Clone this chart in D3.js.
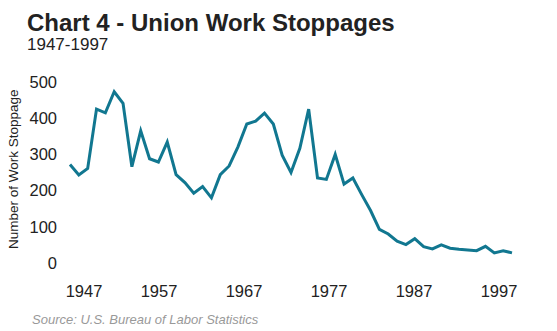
<!DOCTYPE html>
<html>
<head>
<meta charset="utf-8">
<script src="https://cdn.jsdelivr.net/npm/d3@7"></script>
<style>
	body { margin: 0; background: #fff; }
	svg { display: block; font-family: "Liberation Sans", Arial, sans-serif; }
</style>
</head>
<body>
<svg></svg>
<script>
// data (union work stoppages, 1000+ workers)
var years = [1947, 1948, 1949, 1950, 1951, 1952, 1953, 1954, 1955, 1956,
	1957, 1958, 1959, 1960, 1961, 1962, 1963, 1964, 1965, 1966,
	1967, 1968, 1969, 1970, 1971, 1972, 1973, 1974, 1975, 1976,
	1977, 1978, 1979, 1980, 1981, 1982, 1983, 1984, 1985, 1986,
	1987, 1988, 1989, 1990, 1991, 1992, 1993, 1994, 1995, 1996, 1997];
var stoppages = [272, 243, 261, 425, 415, 473, 441, 266, 365, 288,
	279, 334, 244, 222, 193, 211, 180, 244, 268, 321,
	384, 392, 414, 384, 298, 250, 317, 425, 235, 231,
	300, 218, 235, 189, 145, 93, 80, 60, 51, 67,
	45, 39, 50, 41, 38, 36, 34, 46, 28, 34, 28];
var yTicks = [0, 100, 200, 300, 400, 500];
var xTicks = [1947, 1957, 1967, 1977, 1987, 1997];

var draw = function() {

	var width = 557,
		height = 331;

	var svg = d3.select("svg")
		.attr("width", width)
		.attr("height", height);

	// scales
	var x = d3.scaleLinear()
		.domain([1947, 1997])
		.range([70, 512]);

	// the year labels sit on a slightly tighter spacing than the line
	var xLabel = d3.scaleLinear()
		.domain([1957, 1997])
		.range([158.5, 498.5]);

	var y = d3.scaleLinear()
		.domain([0, 500])
		.range([263, 82]);

	// titles
	svg.append("text")
		.attr("x", 27)
		.attr("y", 31)
		.attr("font-size", 24)
		.attr("font-weight", "bold")
		.attr("fill", "#222")
		.text("Chart 4 - Union Work Stoppages");

	svg.append("text")
		.attr("x", 27)
		.attr("y", 50)
		.attr("font-size", 17)
		.attr("fill", "#222")
		.text("1947-1997");

	// y axis (labels only)
	var yAxis = svg.append("g")
		.attr("transform", "translate(57,0)")
		.call(d3.axisLeft(y).tickValues(yTicks).tickSize(0).tickPadding(0));
	yAxis.select(".domain").remove();
	yAxis.selectAll("text")
		.attr("font-size", 16.5)
		.attr("font-family", "Liberation Sans, Arial, sans-serif")
		.attr("fill", "#222");

	// x axis (labels only)
	var xAxis = svg.append("g")
		.attr("transform", "translate(0,285)")
		.call(d3.axisBottom(xLabel).tickValues(xTicks).tickSize(0).tickPadding(0).tickFormat(d3.format("d")));
	xAxis.select(".domain").remove();
	xAxis.selectAll("text")
		.attr("font-size", 16.5)
		.attr("font-family", "Liberation Sans, Arial, sans-serif")
		.attr("fill", "#222")
		.attr("dx", function(d) { return d === 1947 ? 10 : 0; });

	// y axis title, clipped at the top like the original
	svg.append("clipPath")
		.attr("id", "ytitle-clip")
		.append("rect")
		.attr("x", 0)
		.attr("y", 89)
		.attr("width", 30)
		.attr("height", 200);

	svg.append("g")
		.attr("clip-path", "url(#ytitle-clip)")
		.append("text")
		.attr("transform", "translate(17.5,249) rotate(-90)")
		.attr("font-size", 13.5)
		.attr("fill", "#222")
		.text("Number of Work Stoppages");

	// the line
	var line = d3.line()
		.x(function(d, i) { return x(years[i]); })
		.y(function(d) { return y(d); });

	svg.append("path")
		.datum(stoppages)
		.attr("d", line)
		.attr("fill", "none")
		.attr("stroke", "#117790")
		.attr("stroke-width", 3)
		.attr("stroke-linejoin", "miter");

	// source note
	svg.append("text")
		.attr("x", 32)
		.attr("y", 324)
		.attr("font-size", 13)
		.attr("font-style", "italic")
		.attr("fill", "#999")
		.text("Source: U.S. Bureau of Labor Statistics");
};

draw();
</script>
</body>
</html>
